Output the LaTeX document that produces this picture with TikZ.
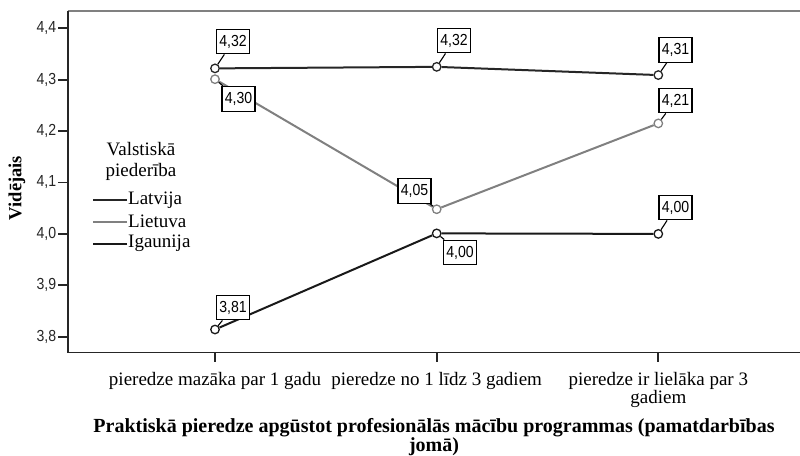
\documentclass[tikz,border=0pt]{standalone}
\usepackage{fontspec}
\setmainfont{Liberation Serif}
\newfontfamily\numfont{Liberation Sans}[FakeStretch=0.88]
\usetikzlibrary{positioning}

\begin{document}
\begin{tikzpicture}[x=1pt, y=-1pt,
    declare function={vy(\v)=2289.9-514*\v;},
    axisline/.style={line width=1.7pt, black!85},
    latv/.style={line width=2pt, black!85},
    liet/.style={line width=2pt, black!50},
    igau/.style={line width=2pt, black!90},
    dotmark/.style={draw, circle, minimum size=8.5pt, inner sep=0pt, line width=1.3pt},
    valbox/.style={draw, fill=white, line width=1.4pt, inner xsep=2.8pt, minimum height=24.5pt,
        font=\numfont\fontsize{16}{16}\selectfont},
    leader/.style={line width=1.1pt, black},
    ticklab/.style={font=\fontsize{19}{18}\selectfont, align=center, inner sep=0pt, anchor=north},
    legtext/.style={font=\fontsize{19}{21}\selectfont, inner sep=1pt}]
    \useasboundingbox (0,0) rectangle (800,455);
    % frame and axes
    \draw[line width=2.4pt, black!50] (67.7,11) -- (800,11);
    \draw[axisline] (67.7,11) -- (67.7,352.5) -- (800,352.5);
    \foreach \v/\lab in {4.4/{4,4},4.3/{4,3},4.2/{4,2},4.1/{4,1},4.0/{4,0},3.9/{3,9},3.8/{3,8}}
        \draw[axisline] (67.7,{vy(\v)}) -- (58,{vy(\v)})
            node[left, inner sep=1pt, font=\numfont\fontsize{16}{16}\selectfont] {\lab};
    \foreach \x in {215,436.7,658.3}
        \draw[axisline] (\x,352.5) -- (\x,362);
    % data points
    \node[dotmark, draw=black!85] (lv1) at (215,{vy(4.322)}) {};
    \node[dotmark, draw=black!85] (lv2) at (436.7,{vy(4.325)}) {};
    \node[dotmark, draw=black!85] (lv3) at (658.3,{vy(4.309)}) {};
    \node[dotmark, draw=black!50] (lt1) at (215,{vy(4.301)}) {};
    \node[dotmark, draw=black!50] (lt2) at (436.7,{vy(4.048)}) {};
    \node[dotmark, draw=black!50] (lt3) at (658.3,{vy(4.215)}) {};
    \node[dotmark, draw=black!90] (ig1) at (215,{vy(3.814)}) {};
    \node[dotmark, draw=black!90] (ig2) at (436.7,{vy(4.001)}) {};
    \node[dotmark, draw=black!90] (ig3) at (658.3,{vy(4.000)}) {};
    \draw[latv] (lv1) -- (lv2) -- (lv3);
    \draw[liet] (lt1) -- (lt2) -- (lt3);
    \draw[igau] (ig1) -- (ig2) -- (ig3);
    % value labels
    \node[valbox] (blv1) at (233,41.5) {4,32};
    \node[valbox] (blv2) at (454,40.5) {4,32};
    \node[valbox] (blv3) at (675.5,50) {4,31};
    \node[valbox] (blt1) at (238.5,99) {4,30};
    \node[valbox] (blt2) at (414.5,191) {4,05};
    \node[valbox] (blt3) at (675.5,100.5) {4,21};
    \node[valbox] (big1) at (233,307.5) {3,81};
    \node[valbox] (big2) at (460,252.5) {4,00};
    \node[valbox] (big3) at (675.5,207.5) {4,00};
    \foreach \p/\b in {lv1/blv1,lv2/blv2,lv3/blv3,lt1/blt1,lt2/blt2,lt3/blt3,ig1/big1,ig2/big2,ig3/big3}
        \draw[leader] (\p) -- (\b);
    % legend
    \node[legtext, align=center] (legtitle) at (141,161) {Valstiskā\\piederība};
    \node[legtext, anchor=west] (legLatv) at (127,200) {Latvija};
    \node[legtext, anchor=west] (legLiet) at (127,221.5) {Lietuva};
    \node[legtext, anchor=west] (legIgau) at (127,243.5) {Igaunija};
    \draw[latv] (legLatv.west) -- ++(-34,0);
    \draw[liet] (legLiet.west) -- ++(-34,0);
    \draw[igau] (legIgau.west) -- ++(-34,0);
    % axis titles
    \node[rotate=90, font=\bfseries\fontsize{18.5}{18}\selectfont] (ylab) at (17,188) {Vidējais};
    \node[ticklab] (xl1) at (215,372) {pieredze mazāka par 1 gadu};
    \node[ticklab] (xl2) at (436.7,372) {pieredze no 1 līdz 3 gadiem};
    \node[ticklab] (xl3) at (658.3,372) {pieredze ir lielāka par 3\\gadiem};
    \node[font=\bfseries\fontsize{20}{19}\selectfont, align=center, anchor=north, inner sep=0pt]
        (xtitle) at (434,418) {Praktiskā pieredze apgūstot profesionālās mācību programmas (pamatdarbības\\jomā)};
\end{tikzpicture}
\end{document}
